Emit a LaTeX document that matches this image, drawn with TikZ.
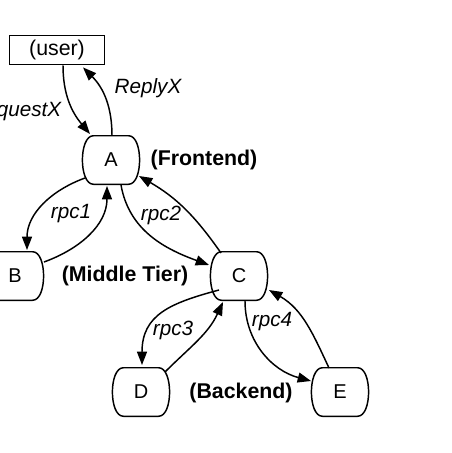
\documentclass[tikz,border=0pt]{standalone}
\usepackage{fontspec}
\setmainfont{Liberation Sans}
\usetikzlibrary{calc,arrows.meta}

\begin{document}
\begin{tikzpicture}[x=0.75pt,y=-0.75pt,
    srv/.style={minimum width=38pt,minimum height=36pt,font=\fontsize{15}{15}\selectfont},
    tier/.style={font=\bfseries\fontsize{16}{16}\selectfont},
    call/.style={font=\itshape\fontsize{15.5}{15.5}\selectfont},
    rpc/.style={line width=1.1pt,-{Triangle[length=10pt,width=7.5pt]}}
]
    \clip (0,0) rectangle (452,453);
    \node[draw,line width=1.1pt,minimum width=71pt,minimum height=22pt,
        font=\fontsize{16}{16}\selectfont] (user) at (57,50) {(user)};
    \node[srv] (A) at (111,160) {A};
    \node[srv] (B) at (15,276) {B};
    \node[srv] (C) at (239,276) {C};
    \node[srv] (D) at (141,392) {D};
    \node[srv] (E) at (340,392) {E};
    % barrel outlines
    \foreach \n in {A,B,C,D,E}
        \draw[line width=1.1pt] ([xshift=6pt]\n.north west) -- ([xshift=-6pt]\n.north east)
            .. controls ([xshift=5pt]\n.north east) and ([xshift=5pt]\n.south east) .. ([xshift=-6pt]\n.south east)
            -- ([xshift=6pt]\n.south west)
            .. controls ([xshift=-5pt]\n.south west) and ([xshift=-5pt]\n.north west) .. cycle;
    % tiers
    \node[tier] (front) at (204,160) {(Frontend)};
    \node[tier] (mid) at (125,276) {(Middle Tier)};
    \node[tier] (back) at (241,393) {(Backend)};
    % call names
    \node[call,anchor=east] (req) at (66,112) {RequestX};
    \node[call] (rep) at (148,88) {ReplyX};
    \node[call] (r1) at (71,214) {rpc1};
    \node[call] (r2) at (161,215) {rpc2};
    \node[call] (r3) at (173,330) {rpc3};
    \node[call] (r4) at (272,322) {rpc4};

    \draw[rpc] ($(user.south)+(6,0)$) to[out=-90,in=130] ($(A)+(-21,-26)$);
    \draw[rpc] ($(A.north)+(1,0)$) to[out=90,in=-45] ($(user.south)+(26,2)$);
    \draw[rpc] ($(A)+(-26,18)$) to[out=200,in=90] ($(B)+(12,-26)$);
    \draw[rpc] ($(B)+(29,-14)$) to[out=20,in=-90] ($(A)+(-4,26)$);
    \draw[rpc] ($(A)+(10,25)$) to[out=-80,in=160] ($(C)+(-30,-11)$);
    \draw[rpc] ($(C)+(-18,-23)$) to[out=125,in=-30] ($(A)+(28,16)$);
    \draw[rpc] ($(C)+(-20,14)$) to[out=195,in=90,looseness=1.2] ($(D)+(1,-27)$);
    \draw[rpc] ($(D)+(24,-20)$) to[out=45,in=-115] ($(C)+(-16,26)$);
    \draw[rpc] ($(C)+(6,25)$) to[out=-90,in=165] ($(E)+(-29,-11)$);
    \draw[rpc] ($(E)+(-11,-24)$) to[out=115,in=-30] ($(C)+(30,14)$);
\end{tikzpicture}
\end{document}
